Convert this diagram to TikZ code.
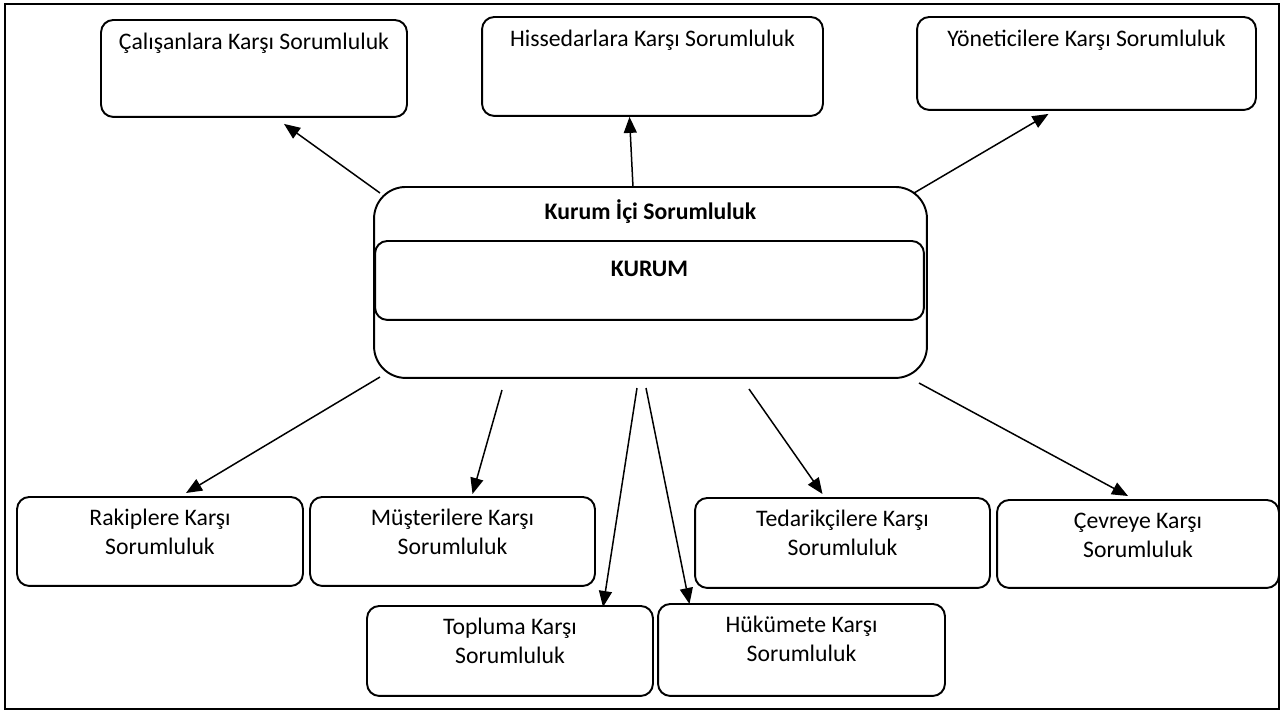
\documentclass[tikz,border=0pt]{standalone}
\usepackage{fontspec}
\setmainfont{Carlito}
\usetikzlibrary{arrows.meta, positioning, calc}

\begin{document}
\begin{tikzpicture}[
    x=0.02cm, y=-0.02cm,
    box/.style={draw, line width=1.1pt, rounded corners=7pt, align=center, font=\fontsize{13.5}{17}\selectfont},
    topbox/.style={box, anchor=north, text height=0.3cm, inner ysep=0.3cm, text depth=#1},
    botbox/.style={box, anchor=north, text height=0.9cm, inner ysep=0.26cm, text depth=#1},
    arrow/.style={-{Triangle[length=0.32cm, width=0.26cm]}, line width=0.85pt}
]
\useasboundingbox (0,0) rectangle (1282,711);
\draw[line width=1.1pt] (5,4) rectangle (1279,709);

% --- Top row ---
\node[topbox=1.04cm, minimum width=6.12cm] (calisan) at (254,19) {Çalışanlara Karşı Sorumluluk};
\node[topbox=1.08cm, minimum width=6.82cm] (hisse) at (652.5,16) {Hissedarlara Karşı Sorumluluk};
\node[topbox=0.96cm, minimum width=6.78cm] (yonetici) at (1086.5,16) {Yöneticilere Karşı Sorumluluk};

% --- Kurum ---
\node[box, anchor=north, rounded corners=18pt, font=\fontsize{13.5}{17}\selectfont\bfseries,
      minimum width=11.06cm, text height=0.3cm, inner ysep=0.36cm, text depth=2.8cm] (kurumici) at (650.5,186) {Kurum İçi Sorumluluk};
\node[box, anchor=north, font=\fontsize{13.5}{17}\selectfont\bfseries,
      minimum width=10.98cm, text height=0.3cm, inner ysep=0.42cm, text depth=0.44cm] (kurum) at (649.5,240) {KURUM};

% --- Bottom rows ---
\node[botbox=0.36cm, minimum width=5.72cm] (rakip) at (160,496) {Rakiplere Karşı\\Sorumluluk};
\node[botbox=0.36cm, minimum width=5.70cm] (musteri) at (452.5,496) {Müşterilere Karşı\\Sorumluluk};
\node[botbox=0.38cm, minimum width=5.90cm] (tedarik) at (842.5,497) {Tedarikçilere Karşı\\Sorumluluk};
\node[botbox=0.34cm, minimum width=5.64cm] (cevre) at (1138,499) {Çevreye Karşı\\Sorumluluk};
\node[botbox=0.38cm, minimum width=5.72cm] (toplum) at (510,605) {Topluma Karşı\\Sorumluluk};
\node[botbox=0.42cm, minimum width=5.74cm] (hukumet) at (801.5,603) {Hükümete Karşı\\Sorumluluk};

% --- Arrow starts ---
\coordinate (s_calisan) at (380,193);
\coordinate (s_hisse) at (633,187);
\coordinate (s_yonetici) at (914,193);
\coordinate (s_rakip) at (380,377);
\coordinate (s_musteri) at (502,390);
\coordinate (s_toplum) at (637,388);
\coordinate (s_hukumet) at (646,388);
\coordinate (s_tedarik) at (749,389);
\coordinate (s_cevre) at (919,383);

% --- Arrows ---
\draw[arrow] (s_calisan) -- ($(calisan.south)+(30,6)$);
\draw[arrow] (s_hisse) -- ($(hisse.south)+(-23,0)$);
\draw[arrow] (s_yonetici) -- ($(yonetici.south)+(-38,3)$);
\draw[arrow] (s_rakip) -- ($(rakip.north)+(26,-3)$);
\draw[arrow] (s_musteri) -- ($(musteri.north)+(20,-2)$);
\draw[arrow] (s_toplum) -- ($(toplum.north)+(93,2)$);
\draw[arrow] (s_hukumet) -- ($(hukumet.north)+(-112,1)$);
\draw[arrow] (s_tedarik) -- ($(tedarik.north)+(-20,-3)$);
\draw[arrow] (s_cevre) -- ($(cevre.north)+(-10,-3)$);

\end{tikzpicture}
\end{document}
